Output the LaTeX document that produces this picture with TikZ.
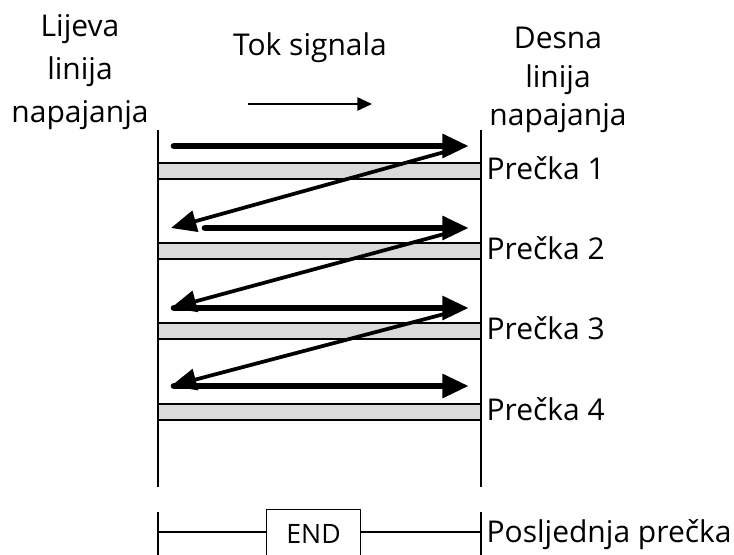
\documentclass[tikz,border=0pt]{standalone}
\usepackage{fontspec}
\setmainfont{Open Sans}
\usetikzlibrary{arrows.meta,positioning}

\begin{document}
\begin{tikzpicture}[
    x=0.75pt, y=-0.75pt,
    font=\fontsize{22.5}{32}\selectfont,
    rail/.style={line width=1.1pt},
    rung/.style={draw, line width=2.2pt, fill=gray!28},
    flow/.style={line width=5pt, line cap=round, -{Triangle[length=20pt,width=17pt]}},
    jump/.style={line width=2.8pt, line cap=round, -{Triangle[length=19pt,width=16pt]}},
    lbl/.style={anchor=base west, inner sep=1pt},
    endbox/.style={draw, line width=0.9pt, fill=white, minimum width=70pt, minimum height=36pt, inner sep=2pt, font=\fontsize{20}{24}\selectfont}
]
    \useasboundingbox (0,0) rectangle (734,554);

    % Headings
    \node[align=center] (left) at (80,72) {Lijeva\\linija\\napajanja};
    \node[align=center, font=\fontsize{22.5}{29}\selectfont] (right) at (558,80) {Desna\\linija\\napajanja};
    \node (tok) at (310,48) {Tok signala};
    \coordinate (ts) at (248,104);
    \coordinate (te) at (372,104);
    \draw[line width=1.3pt, -{Triangle[length=11pt,width=10pt]}] (ts) -- (te);

    % Power rails
    \coordinate (lt) at (158,130);
    \coordinate (lb) at (158,487);
    \coordinate (rt) at (481,130);
    \coordinate (rb) at (481,487);
    \draw[rail] (lt) -- (lb);
    \draw[rail] (rt) -- (rb);

    % Rungs
    \draw[rung] (158,163) rectangle (481,179);
    \draw[rung] (158,243) rectangle (481,259);
    \draw[rung] (158,323) rectangle (481,339);
    \draw[rung] (158,404) rectangle (481,420);
    \node[lbl] (p1) at (485,179) {Prečka 1};
    \node[lbl] (p2) at (485,259) {Prečka 2};
    \node[lbl] (p3) at (485,339) {Prečka 3};
    \node[lbl] (p4) at (485,420) {Prečka 4};

    % Signal flow
    \coordinate (a1) at (174,146);
    \coordinate (b1) at (469,146);
    \coordinate (a2) at (205,228);
    \coordinate (b2) at (469,228);
    \coordinate (a3) at (174,308);
    \coordinate (b3) at (469,308);
    \coordinate (a4) at (174,386);
    \coordinate (b4) at (469,386);
    \coordinate (d1) at (448,151);
    \coordinate (d2) at (448,233);
    \coordinate (d3) at (448,313);
    \coordinate (e1) at (171,228);
    \coordinate (e2) at (171,308);
    \coordinate (e3) at (171,386);
    \draw[flow] (a1) -- (b1);
    \draw[flow] (a2) -- (b2);
    \draw[flow] (a3) -- (b3);
    \draw[flow] (a4) -- (b4);
    \draw[jump] (d1) -- (e1);
    \draw[jump] (d2) -- (e2);
    \draw[jump] (d3) -- (e3);

    % Last rung
    \coordinate (lt2) at (158,512);
    \coordinate (lb2) at (158,560);
    \coordinate (rt2) at (481,512);
    \coordinate (rb2) at (481,560);
    \draw[rail] (lt2) -- (lb2);
    \draw[rail] (rt2) -- (rb2);
    \node[endbox, anchor=north] (end) at (313.5,509) {END};
    \coordinate (ll) at (158,532);
    \coordinate (rr) at (481,532);
    \draw[line width=0.8pt] (ll) -- (end.west |- ll);
    \draw[line width=0.8pt] (end.east |- rr) -- (rr);
    \node[lbl] (last) at (485,542) {Posljednja prečka};
\end{tikzpicture}
\end{document}
